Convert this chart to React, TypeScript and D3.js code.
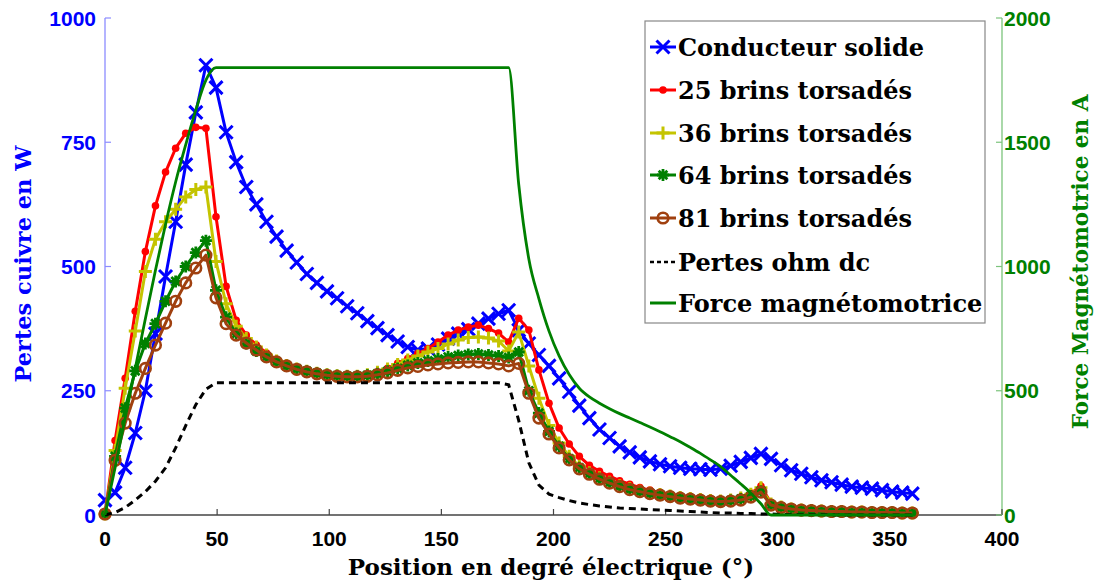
import React from "react";
import * as d3 from "d3";

// Angles (electrical degrees), 4.5° step
const angles: number[] = d3.range(0, 360.001, 4.5);

const solide: number[] = [30, 45, 95, 165, 250, 365, 480, 590, 705, 810, 905, 860, 770, 710, 660, 625, 590, 560, 532, 508, 485, 467, 450, 436, 420, 406, 390, 376, 362, 349, 338, 332, 335, 343, 355, 365, 374, 385, 395, 405, 412, 372, 345, 322, 300, 275, 248, 220, 195, 172, 155, 138, 126, 116, 108, 102, 98, 95, 93, 92, 91, 93, 99, 107, 115, 123, 113, 100, 90, 83, 76, 70, 66, 61, 57, 55, 53, 50, 47, 45, 43];
const brins25: number[] = [2, 150, 275, 410, 530, 622, 690, 738, 768, 780, 778, 600, 460, 392, 362, 342, 326, 313, 303, 296, 290, 286, 283, 281, 280, 280, 283, 288, 295, 305, 315, 325, 335, 348, 362, 372, 378, 382, 375, 366, 348, 396, 372, 292, 225, 175, 143, 118, 100, 88, 78, 69, 62, 55, 50, 45, 41, 38, 35, 33, 31, 30, 32, 36, 44, 58, 24, 17, 13, 11, 9, 8, 7, 7, 6, 6, 5, 5, 5, 4, 4];
const brins36: number[] = [2, 130, 255, 370, 490, 555, 590, 615, 640, 655, 660, 510, 425, 380, 355, 338, 322, 310, 301, 294, 289, 285, 282, 280, 279, 279, 282, 287, 294, 303, 312, 320, 328, 335, 344, 352, 357, 358, 356, 350, 330, 368, 300, 235, 180, 145, 118, 98, 85, 75, 66, 59, 53, 48, 44, 41, 38, 35, 33, 31, 29, 28, 30, 34, 42, 55, 22, 16, 12, 10, 9, 8, 7, 7, 6, 6, 5, 5, 5, 4, 4];
const brins64: number[] = [2, 118, 215, 290, 345, 385, 430, 470, 500, 528, 552, 452, 398, 365, 345, 330, 318, 308, 300, 294, 289, 285, 282, 280, 279, 279, 281, 284, 289, 295, 301, 306, 310, 314, 318, 321, 323, 324, 322, 320, 317, 328, 250, 205, 168, 138, 113, 95, 83, 73, 65, 58, 52, 47, 43, 40, 37, 34, 32, 30, 28, 27, 29, 32, 38, 48, 20, 15, 12, 10, 9, 8, 7, 7, 6, 6, 5, 5, 5, 4, 4];
const brins81: number[] = [2, 110, 185, 245, 295, 342, 386, 430, 467, 497, 523, 437, 385, 362, 346, 332, 318, 308, 300, 293, 288, 284, 281, 279, 278, 278, 279, 282, 286, 291, 296, 299, 302, 304, 306, 307, 308, 308, 306, 304, 300, 305, 245, 195, 163, 135, 111, 93, 82, 72, 64, 57, 51, 47, 43, 40, 37, 34, 32, 30, 28, 27, 28, 30, 36, 46, 20, 15, 12, 10, 9, 8, 7, 7, 6, 6, 5, 5, 5, 4, 4];
const ohmDc: number[] = [0, 5, 15, 30, 47, 68, 95, 135, 180, 222, 253, 266, 266, 266, 266, 266, 266, 266, 266, 266, 266, 266, 266, 266, 266, 266, 266, 266, 266, 266, 266, 266, 266, 266, 266, 266, 266, 266, 266, 266, 262, 190, 105, 60, 42, 35, 29, 24, 21, 18, 16, 14, 13, 12, 11, 10, 9, 8, 7, 6, 5, 4, 4, 3, 3, 2, 2, 1, 1, 1, 1, 1, 0, 0, 0, 0, 0, 0, 0, 0, 0];
const fmm: number[] = [0, 190, 390, 590, 790, 985, 1170, 1340, 1490, 1630, 1750, 1800, 1800, 1800, 1800, 1800, 1800, 1800, 1800, 1800, 1800, 1800, 1800, 1800, 1800, 1800, 1800, 1800, 1800, 1800, 1800, 1800, 1800, 1800, 1800, 1800, 1800, 1800, 1800, 1800, 1800, 1330, 1030, 870, 740, 640, 565, 510, 475, 450, 428, 408, 390, 372, 354, 335, 315, 295, 272, 248, 222, 195, 160, 125, 88, 45, 0, 0, 0, 0, 0, 0, 0, 0, 0, 0, 0, 0, 0, 0, 0];

const xTicks: number[] = [0, 50, 100, 150, 200, 250, 300, 350, 400];
const yLeftTicks: number[] = [0, 250, 500, 750, 1000];
const yRightTicks: number[] = [0, 500, 1000, 1500, 2000];

const legendLabels: string[] = [
  "Conducteur solide",
  "25 brins torsadés",
  "36 brins torsadés",
  "64 brins torsadés",
  "81 brins torsadés",
  "Pertes ohm dc",
  "Force magnétomotrice",
];

const C_BLUE = "#0000ff";
const C_RED = "#ff0000";
const C_YEL = "#c4c400";
const C_GRN = "#008000";
const C_BRN = "#a0400f";

type MarkerKind = "x" | "dot" | "plus" | "star" | "circle" | "none";

function markerPath(kind: MarkerKind, cx: number, cy: number, s: number): string {
  if (kind === "x") return `M${cx - s},${cy - s}L${cx + s},${cy + s}M${cx - s},${cy + s}L${cx + s},${cy - s}`;
  if (kind === "plus") return `M${cx - s},${cy}H${cx + s}M${cx},${cy - s}V${cy + s}`;
  if (kind === "star") {
    const d = s * 0.72;
    return `M${cx - s},${cy}H${cx + s}M${cx},${cy - s}V${cy + s}M${cx - d},${cy - d}L${cx + d},${cy + d}M${cx - d},${cy + d}L${cx + d},${cy - d}`;
  }
  return "";
}

function Marker({ kind, cx, cy, color }: { kind: MarkerKind; cx: number; cy: number; color: string }) {
  if (kind === "dot") return <circle cx={cx} cy={cy} r={3.8} fill={color} />;
  if (kind === "circle") return <circle cx={cx} cy={cy} r={5.3} fill="none" stroke={color} strokeWidth={2.6} />;
  if (kind === "none") return null;
  const s = kind === "star" ? 6 : 6.5;
  return <path d={markerPath(kind, cx, cy, s)} stroke={color} strokeWidth={kind === "star" ? 2.8 : 3} fill="none" />;
}

export default function App() {
  const x = d3.scaleLinear().domain([0, 400]).range([105, 1002]);
  const yL = d3.scaleLinear().domain([0, 1000]).range([515, 18]);
  const yR = d3.scaleLinear().domain([0, 2000]).range([515, 18]);

  const lineL = (vals: number[]) =>
    d3.line<number>().x((_, i) => x(angles[i])).y((v) => yL(v))(vals) || "";
  const lineR = (vals: number[]) =>
    d3.line<number>().x((_, i) => x(angles[i])).y((v) => yR(v)).curve(d3.curveMonotoneX)(vals) || "";

  const series: { vals: number[]; color: string; kind: MarkerKind }[] = [
    { vals: solide, color: C_BLUE, kind: "x" },
    { vals: brins25, color: C_RED, kind: "dot" },
    { vals: brins36, color: C_YEL, kind: "plus" },
    { vals: brins64, color: C_GRN, kind: "star" },
    { vals: brins81, color: C_BRN, kind: "circle" },
  ];

  const tickFont = "'Liberation Sans', Arial, sans-serif";
  const serif = "'DejaVu Serif', serif";

  const legendX = 645;
  const legendY = 21;
  const legendW = 340;
  const legendH = 302;
  const legendRowY = [47, 90, 133, 175, 218, 262, 303];
  const legendStyles: { color: string; kind: MarkerKind; dash?: string }[] = [
    { color: C_BLUE, kind: "x" },
    { color: C_RED, kind: "dot" },
    { color: C_YEL, kind: "plus" },
    { color: C_GRN, kind: "star" },
    { color: C_BRN, kind: "circle" },
    { color: "#000", kind: "none", dash: "4,3" },
    { color: C_GRN, kind: "none" },
  ];

  return (
    <svg
      width={1100}
      height={580}
      style={{ position: "absolute", left: 0, top: 0, background: "#fff" }}
      xmlns="http://www.w3.org/2000/svg"
    >
      <rect x={0} y={0} width={1100} height={580} fill="#fff" />

      {/* axes lines */}
      <line x1={105} y1={515} x2={1002} y2={515} stroke="#444" strokeWidth={1.3} />
      <line x1={105} y1={18} x2={105} y2={515} stroke="#8c8cff" strokeWidth={1.3} />
      <line x1={1002} y1={18} x2={1002} y2={515} stroke="#7cc47c" strokeWidth={1.3} />

      {/* x ticks */}
      {xTicks.map((t) => (
        <g key={"xt" + t}>
          <line x1={x(t)} x2={x(t)} y1={515} y2={509} stroke="#444" strokeWidth={1.2} />
          <text
            x={x(t)}
            y={546}
            textAnchor="middle"
            fontFamily={tickFont}
            fontWeight="bold"
            fontSize={21}
            fill="#000"
          >
            {t}
          </text>
        </g>
      ))}

      {/* left ticks */}
      {yLeftTicks.map((t) => (
        <g key={"yl" + t}>
          <line x1={105} x2={111} y1={yL(t)} y2={yL(t)} stroke="#8c8cff" strokeWidth={1.2} />
          <text
            x={96}
            y={yL(t) + 7.5}
            textAnchor="end"
            fontFamily={tickFont}
            fontWeight="bold"
            fontSize={21}
            fill={C_BLUE}
          >
            {t}
          </text>
        </g>
      ))}

      {/* right ticks */}
      {yRightTicks.map((t) => (
        <g key={"yr" + t}>
          <line x1={996} x2={1002} y1={yR(t)} y2={yR(t)} stroke="#7cc47c" strokeWidth={1.2} />
          <text
            x={1004}
            y={yR(t) + 7.5}
            textAnchor="start"
            fontFamily={tickFont}
            fontWeight="bold"
            fontSize={21}
            fill={C_GRN}
          >
            {t}
          </text>
        </g>
      ))}

      {/* axis titles */}
      <text
        transform="translate(31,264) rotate(-90)"
        textAnchor="middle"
        fontFamily={serif}
        fontWeight="bold"
        fontSize={22.5}
        fill={C_BLUE}
      >
        Pertes cuivre en W
      </text>
      <text
        transform="translate(1088,262) rotate(-90)"
        textAnchor="middle"
        fontFamily={serif}
        fontWeight="bold"
        fontSize={21.5}
        fill={C_GRN}
      >
        Force Magnétomotrice en A
      </text>
      <text
        x={551}
        y={575}
        textAnchor="middle"
        fontFamily={serif}
        fontWeight="bold"
        fontSize={23}
        fill="#000"
      >
        Position en degré électrique (°)
      </text>

      {/* data series */}
      {series.map((s, si) => (
        <g key={"s" + si}>
          <path d={lineL(s.vals)} fill="none" stroke={s.color} strokeWidth={3} strokeLinejoin="round" />
          {s.vals.map((v, i) => (
            <Marker key={i} kind={s.kind} cx={x(angles[i])} cy={yL(v)} color={s.color} />
          ))}
        </g>
      ))}
      <path d={lineL(ohmDc)} fill="none" stroke="#000" strokeWidth={3} strokeDasharray="7,5" />
      <path d={lineR(fmm)} fill="none" stroke={C_GRN} strokeWidth={2.8} strokeLinejoin="round" />

      {/* legend */}
      <rect x={legendX} y={legendY} width={legendW} height={legendH} fill="#fff" stroke="#888" strokeWidth={1.2} />
      {legendLabels.map((lab, i) => {
        const st = legendStyles[i];
        const cy = legendRowY[i];
        return (
          <g key={"lg" + i}>
            <line
              x1={650}
              x2={676}
              y1={cy}
              y2={cy}
              stroke={st.color}
              strokeWidth={st.dash ? 2.5 : 3}
              strokeDasharray={st.dash}
            />
            <Marker kind={st.kind} cx={663} cy={cy} color={st.color} />
            <text
              x={678}
              y={cy + 8.5}
              fontFamily={serif}
              fontWeight="bold"
              fontSize={24}
              fill="#000"
            >
              {lab}
            </text>
          </g>
        );
      })}
    </svg>
  );
}
